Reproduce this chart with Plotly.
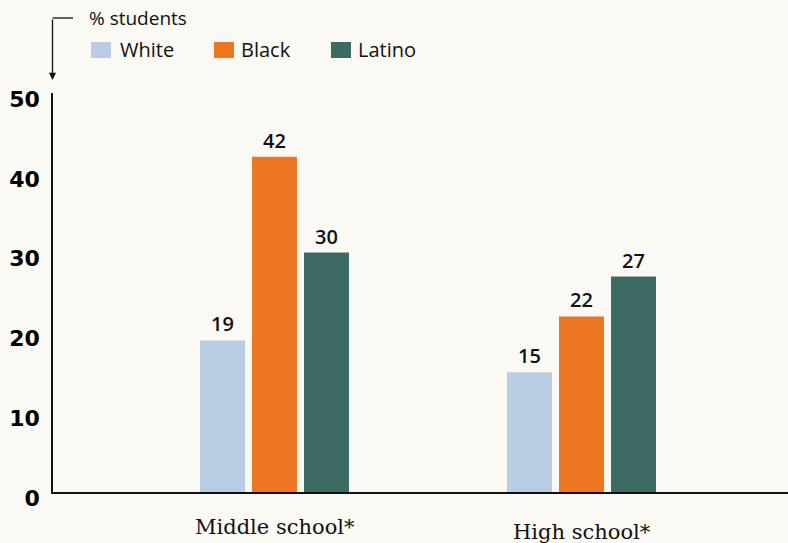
import plotly.graph_objects as go

categories = ["Middle school*", "High school*"]
series_names = ["White", "Black", "Latino"]
white = [19, 15]
black = [42, 22]
latino = [30, 27]
y_ticks = [0, 10, 20, 30, 40, 50]

colors = {"White": "#b8cde3", "Black": "#ec7621", "Latino": "#3c6b64"}
values = {"White": white, "Black": black, "Latino": latino}

BG = "#faf9f4"
W, H = 788, 543
ML, MR, MT, MB = 53, 0, 93, 51
PW, PH = W - ML - MR, H - MT - MB


def px(x):
    return (x - ML) / PW


def py(y):
    return (H - MB - y) / PH


fig = go.Figure()
for name in series_names:
    fig.add_trace(go.Bar(
        x=categories, y=values[name], name=name,
        marker=dict(color=colors[name], line=dict(width=0)),
        text=[str(v) for v in values[name]], textposition="outside",
        textfont=dict(family="Open Sans", size=20, color="#111111", weight=600),
        cliponaxis=False, showlegend=False,
    ))

shapes = []
annotations = []
# custom legend
legend_pos = {"White": (91, 118), "Black": (214, 239), "Latino": (331, 356)}
for name in series_names:
    sx, tx = legend_pos[name]
    shapes.append(dict(type="rect", xref="paper", yref="paper",
                       x0=px(sx), x1=px(sx + 20), y0=py(58), y1=py(42),
                       fillcolor=colors[name], line=dict(width=0)))
    annotations.append(dict(text=name, xref="paper", yref="paper",
                            x=px(tx), y=py(50), xanchor="left", yanchor="middle",
                            showarrow=False,
                            font=dict(family="Open Sans", size=20, color="#111111")))
annotations.append(dict(text="% students", xref="paper", yref="paper",
                        x=px(87), y=py(18), xanchor="left", yanchor="middle",
                        showarrow=False,
                        font=dict(family="Open Sans", size=19, color="#111111")))
# unit arrow
shapes.append(dict(type="line", xref="paper", yref="paper",
                   x0=px(52.5), x1=px(73), y0=py(18), y1=py(18),
                   line=dict(color="#111111", width=1.3)))
annotations.append(dict(text="", xref="paper", yref="paper",
                        x=px(52.5), y=py(80), ax=0, ay=-62, axref="pixel", ayref="pixel",
                        showarrow=True, arrowhead=2, arrowsize=1.1, arrowwidth=1.3,
                        arrowcolor="#111111"))
# category labels
cat_shift = {"Middle school*": -35, "High school*": -40}
for c in categories:
    annotations.append(dict(text=c, x=c, y=0, xref="x", yref="y",
                            yanchor="middle", xanchor="center", yshift=cat_shift[c],
                            showarrow=False,
                            font=dict(family="DejaVu Serif", size=21, color="#111111")))

fig.update_layout(
    width=W, height=H,
    margin=dict(l=ML, r=MR, t=MT, b=MB),
    paper_bgcolor=BG, plot_bgcolor=BG,
    barmode="group", bargap=0.4919, bargroupgap=0.1346,
    shapes=shapes, annotations=annotations,
    xaxis=dict(type="category", range=[-0.7215, 1.6726], showgrid=False,
               showticklabels=False, ticks="", showline=True,
               linecolor="#111111", linewidth=2.2, zeroline=False, fixedrange=True),
    yaxis=dict(range=[0, 50], tickvals=y_ticks, ticktext=[str(t) for t in y_ticks],
               showgrid=False, zeroline=False, showline=True,
               linecolor="#111111", linewidth=1.5, ticks="",
               ticklabelstandoff=7, ticklabelshift=6,
               tickfont=dict(family="DejaVu Sans", size=22, color="#000000", weight="bold"),
               fixedrange=True),
    showlegend=False,
)

fig.write_html(
    "out.html",
    config={"displayModeBar": False},
    post_script="document.body.style.margin='0';document.body.style.padding='0';"
                "document.body.style.overflow='hidden';"
                "document.documentElement.style.background='" + BG + "';",
)
